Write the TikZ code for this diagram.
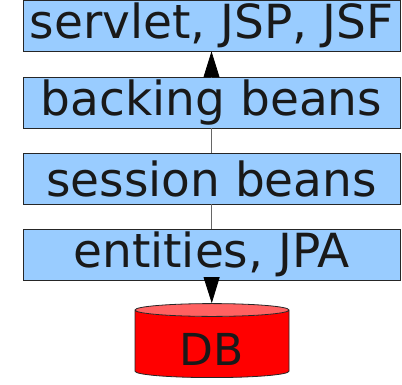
\documentclass[tikz,border=0pt]{standalone}
\usepackage{fontspec}
\setmainfont{DejaVu Sans}
\usetikzlibrary{shapes.geometric,arrows.meta}

\definecolor{layerblue}{HTML}{99CCFF}
\definecolor{dbred}{HTML}{FF0000}
\definecolor{dbtop}{HTML}{FF6161}

\begin{document}
\begin{tikzpicture}[x=1pt,y=-1pt,
    layer/.style={draw=black!85,line width=0.8pt,fill=layerblue,
      minimum width=377pt,minimum height=51pt,inner sep=0pt,
      font=\fontsize{47}{56}\selectfont,text=black!90},
    link/.style={draw=black!60,line width=0.8pt},
    bigtip/.style={link,-{Triangle[length=26pt,width=16pt,color=black]}}]
    \useasboundingbox (0,0) rectangle (402,385);
    % the four layers
    \node[layer] (web) at (211.5,25.5) {servlet, JSP, JSF};
    \node[layer] (backing) at (211.5,102.5) {backing beans};
    \node[layer] (session) at (211.5,178.5) {session beans};
    \node[layer] (entities) at (211.5,254.5) {entities, JPA};
    % the database, a tall text box pushes DB a little down
    \node[cylinder,shape border rotate=90,aspect=0.2,draw=black!85,line width=0.8pt,
      cylinder uses custom fill,cylinder body fill=dbred,cylinder end fill=dbtop,
      minimum width=154pt,minimum height=74pt,inner sep=0pt,
      text height=42pt,text depth=0pt,
      font=\fontsize{44}{52}\selectfont,text=black!90] (db) at (212,344) {DB};
    % connectors
    \draw[bigtip] (backing) -- (web);
    \draw[link] (session) -- (backing);
    \draw[link] (entities) -- (session);
    \draw[bigtip] (entities) -- (db);
\end{tikzpicture}
\end{document}
